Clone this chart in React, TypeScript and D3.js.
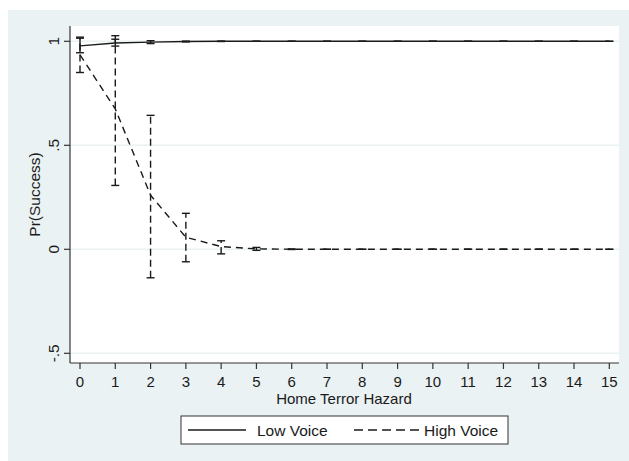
import React from "react";
import * as d3 from "d3";

const hazard = d3.range(0, 16);
const lowVoice = [0.978, 0.992, 0.996, 0.999, 1, 1, 1, 1, 1, 1, 1, 1, 1, 1, 1, 1];
const lowLo = [0.945, 0.977, 0.989, 0.997, 0.999, 1, 1, 1, 1, 1, 1, 1, 1, 1, 1, 1];
const lowHi = [1.015, 1.01, 1.003, 1.001, 1.001, 1, 1, 1, 1, 1, 1, 1, 1, 1, 1, 1];
const highVoice = [0.935, 0.675, 0.26, 0.058, 0.013, 0.002, 0.0005, 0, 0, 0, 0, 0, 0, 0, 0, 0];
const highLo = [0.85, 0.307, -0.137, -0.06, -0.022, -0.005, -0.001, 0, 0, 0, 0, 0, 0, 0, 0, 0];
const highHi = [1.02, 1.027, 0.644, 0.173, 0.041, 0.009, 0.002, 0, 0, 0, 0, 0, 0, 0, 0, 0];
const yTicks = [-0.5, 0, 0.5, 1];
const yTickLabels = ["-.5", "0", ".5", "1"];

const W = 629, H = 461;
const plot = { left: 70, right: 619, top: 26, bottom: 363 };
const FONT = "'Liberation Sans', Arial, sans-serif";
const INK = "#1a1a1a";
const FS = 15.5;

export default function App() {
  const x = d3.scaleLinear().domain([0, 15]).range([80, 609.3]);
  const y = d3.scaleLinear().domain([0, 1]).range([249.3, 41.3]);
  const line = d3.line<number>().x((_, i) => x(hazard[i])).y((d) => y(d)).curve(d3.curveLinear);

  const errBars = (lo: number[], hi: number[], dash?: string, key?: string) =>
    hazard.map((h, i) => {
      const cx = x(h);
      return (
        <g key={`${key}-${i}`} stroke={INK} strokeWidth={1.4} fill="none">
          <line x1={cx} x2={cx} y1={y(lo[i])} y2={y(hi[i])} strokeDasharray={dash} />
          <line x1={cx - 4} x2={cx + 4} y1={y(lo[i])} y2={y(lo[i])} />
          <line x1={cx - 4} x2={cx + 4} y1={y(hi[i])} y2={y(hi[i])} />
        </g>
      );
    });

  return (
    <svg width={W} height={H} style={{ position: "absolute", left: 0, top: 0 }} fontFamily={FONT}>
      <rect x={0} y={0} width={W} height={H} fill="#ffffff" />
      <rect x={8} y={10} width={W - 8} height={H - 10} fill="#eaf2f3" />
      <rect x={plot.left} y={plot.top} width={plot.right - plot.left} height={plot.bottom - plot.top} fill="#ffffff" />
      {yTicks.map((t) => (
        <line key={`g${t}`} x1={plot.left} x2={plot.right} y1={y(t)} y2={y(t)} stroke="#eaf2f3" strokeWidth={1.5} />
      ))}
      {/* axes */}
      <line x1={plot.left} x2={plot.left} y1={plot.top} y2={plot.bottom} stroke="#333" strokeWidth={1.2} />
      <line x1={plot.left} x2={plot.right} y1={plot.bottom} y2={plot.bottom} stroke="#333" strokeWidth={1.2} />
      {yTicks.map((t, i) => (
        <g key={`yt${t}`}>
          <line x1={plot.left - 6} x2={plot.left} y1={y(t)} y2={y(t)} stroke="#333" strokeWidth={1.2} />
          <text transform={`translate(59,${y(t)}) rotate(-90)`} textAnchor="middle" fontSize={FS} fill={INK}>
            {yTickLabels[i]}
          </text>
        </g>
      ))}
      {hazard.map((h) => (
        <g key={`xt${h}`}>
          <line x1={x(h)} x2={x(h)} y1={plot.bottom} y2={plot.bottom + 6} stroke="#333" strokeWidth={1.2} />
          <text x={x(h)} y={386.5} textAnchor="middle" fontSize={15} fill={INK}>
            {h}
          </text>
        </g>
      ))}
      <text x={344} y={404} textAnchor="middle" fontSize={15} fill={INK}>
        Home Terror Hazard
      </text>
      <text transform={`translate(40,${(plot.top + plot.bottom) / 2}) rotate(-90)`} textAnchor="middle" fontSize={FS} fill={INK}>
        Pr(Success)
      </text>
      {/* error bars */}
      {errBars(highLo, highHi, "7,4", "h")}
      {errBars(lowLo, lowHi, undefined, "l")}
      {/* lines */}
      <path d={line(highVoice) || ""} fill="none" stroke={INK} strokeWidth={1.4} strokeDasharray="7,5" />
      <path d={line(lowVoice) || ""} fill="none" stroke={INK} strokeWidth={1.4} />
      {/* legend */}
      <rect x={181} y={416} width={327} height={28} fill="#ffffff" stroke="#333" strokeWidth={1} />
      <line x1={188} x2={246} y1={430} y2={430} stroke={INK} strokeWidth={1.4} />
      <text x={257} y={436} fontSize={FS} fill={INK}>Low Voice</text>
      <line x1={354} x2={419} y1={430} y2={430} stroke={INK} strokeWidth={1.4} strokeDasharray="9,5" />
      <text x={424} y={436} fontSize={FS} fill={INK}>High Voice</text>
    </svg>
  );
}
